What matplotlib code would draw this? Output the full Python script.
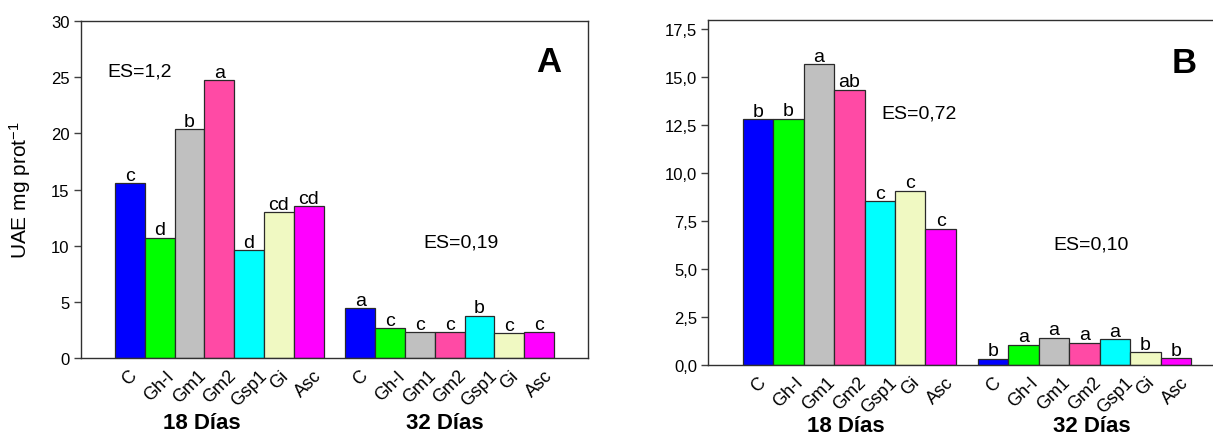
import numpy as np
import matplotlib
matplotlib.use("Agg")
import matplotlib.pyplot as plt
import matplotlib.transforms as mtransforms

plt.rcParams['font.family'] = ['Liberation Sans', 'DejaVu Sans']
plt.rcParams['mathtext.fontset'] = 'custom'
plt.rcParams['mathtext.rm'] = 'Liberation Sans'
plt.rcParams['mathtext.it'] = 'Liberation Sans'

# tratamientos y colores
tratamientos = ["C", "Gh-I", "Gm1", "Gm2", "Gsp1", "Gi", "Asc"]
colores = ["#0000FF", "#00FF00", "#C0C0C0", "#FF4AA5", "#00FFFF", "#F0F9C2", "#FF00FF"]
grupos = ["18 Días", "32 Días"]

# panel A
a_18 = [15.55, 10.7, 20.35, 24.7, 9.6, 13.0, 13.5]
a_32 = [4.44, 2.67, 2.31, 2.31, 3.8, 2.25, 2.31]
letras_a_18 = ["c", "d", "b", "a", "d", "cd", "cd"]
letras_a_32 = ["a", "c", "c", "c", "b", "c", "c"]
yticks_a = [0, 5, 10, 15, 20, 25, 30]
ylabels_a = ["0", "5", "10", "15", "20", "25", "30"]

# panel B
b_18 = [12.81, 12.85, 15.67, 14.35, 8.54, 9.08, 7.1]
b_32 = [0.33, 1.06, 1.42, 1.16, 1.34, 0.66, 0.35]
letras_b_18 = ["b", "b", "a", "ab", "c", "c", "c"]
letras_b_32 = ["b", "a", "a", "a", "a", "b", "b"]
yticks_b = [0, 2.5, 5, 7.5, 10, 12.5, 15, 17.5]
ylabels_b = ["0,0", "2,5", "5,0", "7,5", "10,0", "12,5", "15,0", "17,5"]

hueco = 0.73
x1 = np.arange(7)
x2 = np.arange(7) + 7 + hueco
xs = np.concatenate([x1, x2])

fig = plt.figure(figsize=(12.13, 4.39), dpi=100)
axA = fig.add_axes([0.0665, 0.1815, 0.4185, 0.7691])
axB = fig.add_axes([0.584, 0.1663, 0.426, 0.7865])


def panel(ax, v18, v32, l18, l32, yt, yl, ymax, lim_x, gx, ty):
    vals = list(v18) + list(v32)
    letras = list(l18) + list(l32)
    ax.bar(xs, vals, width=1.0, color=colores * 2, edgecolor="#2a2a2a", linewidth=0.9)
    for x, v, l in zip(xs, vals, letras):
        ax.annotate(l, (x, v), xytext=(0, 2.5), textcoords="offset points",
                    ha="center", va="baseline", fontsize=14)
    ax.set_xlim(*lim_x)
    ax.set_ylim(0, ymax)
    ax.set_yticks(yt)
    ax.set_yticklabels(yl, fontsize=12)
    ax.set_xticks(xs)
    ax.set_xticklabels(tratamientos * 2, rotation=45, ha="center", va="top", fontsize=13)
    ax.tick_params(axis="y", direction="out", length=5, width=1, color="#404040", pad=3)
    ax.tick_params(axis="x", length=0, pad=6)
    for s in ax.spines.values():
        s.set_color("#303030")
        s.set_linewidth(1)
    # nombres de los grupos bajo las etiquetas
    trans = mtransforms.blended_transform_factory(ax.transData, ax.transAxes)
    for x, g in zip(gx, grupos):
        ax.text(x, ty, g, transform=trans, ha="center", va="center",
                fontsize=16, fontweight="bold")


panel(axA, a_18, a_32, letras_a_18, letras_a_32, yticks_a, ylabels_a, 30,
      (-1.65, 15.38), (2.4, x2.mean() - 0.18), -0.191)
panel(axB, b_18, b_32, letras_b_18, letras_b_32, yticks_b, ylabels_b, 18,
      (-1.63, 15.35), (x1.mean() - 0.1, x2.mean() + 0.23), -0.176)

axA.set_ylabel("UAE mg prot$^{-1}$", fontsize=15)
axA.yaxis.set_label_coords(-0.094, 0.5)

axA.text(-0.77, 25.5, "ES=1,2", fontsize=14, ha="left", va="center")
axA.text(9.85, 10.3, "ES=0,19", fontsize=14, ha="left", va="center")
axA.text(14.04, 26.4, "A", fontsize=25, fontweight="bold", ha="center", va="center")

axB.text(4.05, 13.16, "ES=0,72", fontsize=14, ha="left", va="center")
axB.text(9.7, 6.3, "ES=0,10", fontsize=14, ha="left", va="center")
axB.text(14.0, 15.78, "B", fontsize=25, fontweight="bold", ha="center", va="center")

fig.savefig("out.png", dpi=100)
